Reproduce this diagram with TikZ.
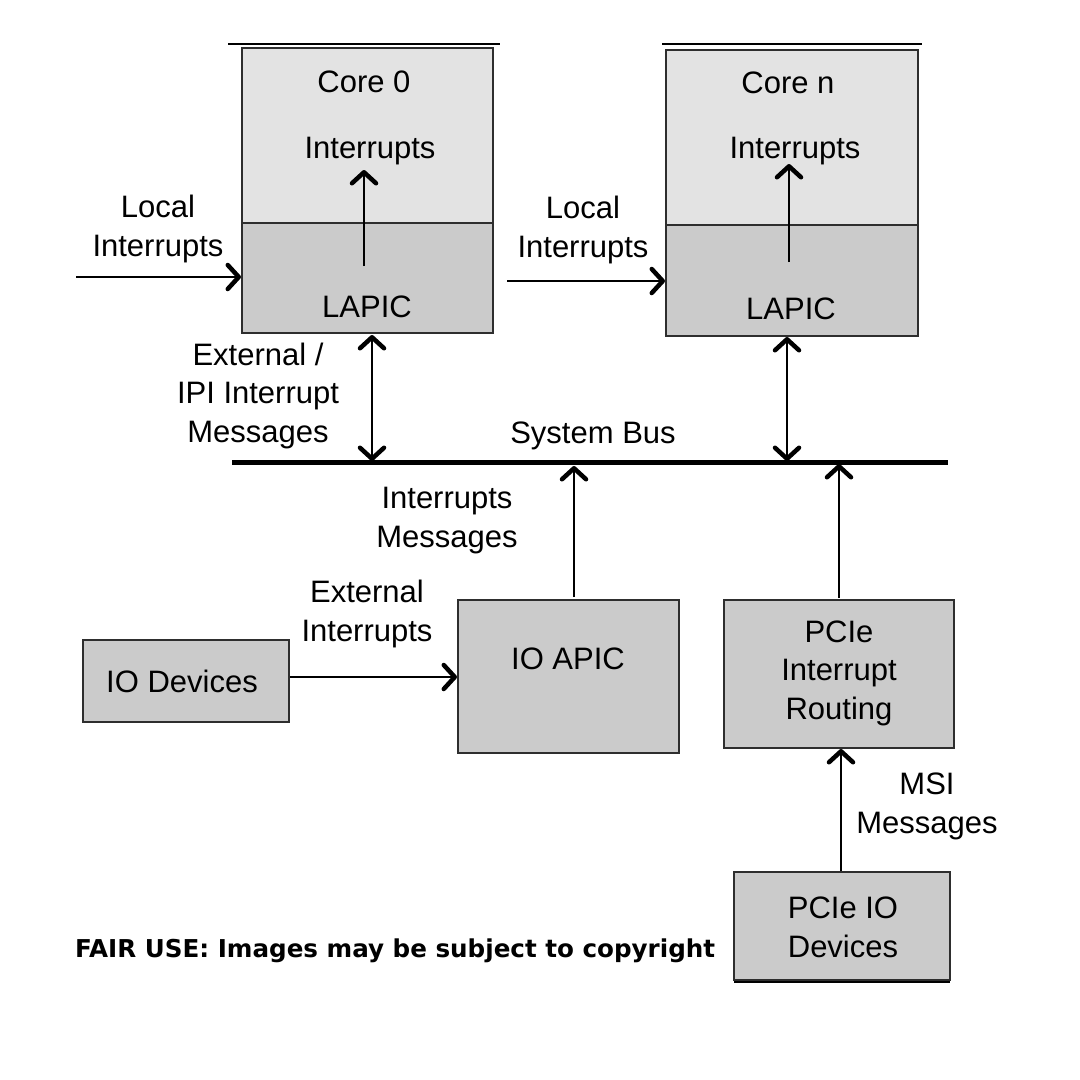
\documentclass[tikz,border=0pt]{standalone}
\usepackage{fontspec}
\setmainfont{Liberation Sans}
\newfontfamily\fairfont{DejaVu Sans}
\usetikzlibrary{arrows.meta}
\definecolor{lightbox}{HTML}{E3E3E3}
\definecolor{darkbox}{HTML}{CBCBCB}
\definecolor{edgegray}{HTML}{2E2E2E}
\tikzset{
  blk/.style={draw=edgegray, line width=2pt, inner sep=0pt},
  lbl/.style={font=\fontsize{31}{38.5}\selectfont, align=center, inner sep=0pt, anchor=base},
  barb/.tip={Straight Barb[length=11pt, width=24pt, line width=4.5pt 0, round]},
  conn/.style={line width=1.8pt, -barb},
  dconn/.style={line width=1.8pt, barb-barb},
}
\begin{document}
\begin{tikzpicture}[x=1pt,y=-1pt]
\useasboundingbox[fill=white] (0,0) rectangle (1080,1080);

% Core 0
\node[blk, fill=lightbox, minimum width=251pt, minimum height=175pt] (c0top) at (367.5,135.5) {};
\node[blk, fill=darkbox, minimum width=251pt, minimum height=110pt] (c0lap) at (367.5,278) {};
\coordinate (c0barL) at (228,44);
\coordinate (c0barR) at (500,44);
\draw[line width=2pt] (c0barL) -- (c0barR);
\node[lbl] (c0name) at (364,92) {Core 0};
\node[lbl] (c0int) at (370,158) {Interrupts};
\node[lbl] (c0lapt) at (367,317) {LAPIC};
\coordinate (c0in) at (364,266);
\coordinate (c0out) at (364,170);
\draw[conn] (c0in) -- (c0out);

% Core n
\node[blk, fill=lightbox, minimum width=252pt, minimum height=175pt] (cntop) at (792,137.5) {};
\node[blk, fill=darkbox, minimum width=252pt, minimum height=111pt] (cnlap) at (792,280.5) {};
\coordinate (cnbarL) at (662,44);
\coordinate (cnbarR) at (922,44);
\draw[line width=2pt] (cnbarL) -- (cnbarR);
\node[lbl] (cnname) at (788,93) {Core n};
\node[lbl] (cnint) at (795,158) {Interrupts};
\node[lbl] (cnlapt) at (791,319) {LAPIC};
\coordinate (cnin) at (789,262);
\coordinate (cnout) at (789,164);
\draw[conn] (cnin) -- (cnout);

% Local interrupts
\node[lbl] (loc0) at (158,256) {Local\\Interrupts};
\coordinate (loc0src) at (76,277);
\draw[conn] (loc0src) -- (c0lap.west |- loc0src);
\node[lbl] (locn) at (583,257) {Local\\Interrupts};
\coordinate (locnsrc) at (507,281);
\draw[conn] (locnsrc) -- (cnlap.west |- locnsrc);

% System bus
\coordinate (busL) at (232,462.5);
\coordinate (busR) at (948,462.5);
\draw[line width=5pt] (busL) -- (busR);
\node[lbl] (buslbl) at (593,443) {System Bus};

% LAPIC <-> bus
\draw[dconn] (372,335) -- (372,461);
\draw[dconn] (787,337) -- (787,461);
\node[lbl] (extipi) at (258,442) {External /\\IPI Interrupt\\Messages};

% IO APIC
\node[blk, fill=darkbox, minimum width=221pt, minimum height=153pt] (ioapic) at (568.5,676.5) {};
\node[lbl] (ioapict) at (568,669) {IO APIC};
\coordinate (ioapicup) at (574,597);
\coordinate (ioapicbus) at (574,466);
\draw[conn] (ioapicup) -- (ioapicbus);
\node[lbl] (intmsg) at (447,547) {Interrupts\\Messages};

% PCIe Interrupt Routing
\node[blk, fill=darkbox, minimum width=230pt, minimum height=148pt] (pcier) at (839,674) {};
\node[lbl] (pciert) at (839,719) {PCIe\\Interrupt\\Routing};
\coordinate (pcieup) at (839,598);
\coordinate (pciebus) at (839,464);
\draw[conn] (pcieup) -- (pciebus);

% IO Devices
\node[blk, fill=darkbox, minimum width=206pt, minimum height=82pt] (iodev) at (186,681) {};
\node[lbl] (iodevt) at (182,692) {IO Devices};
\draw[conn] (iodev.east |- 0,677) -- (ioapic.west |- 0,677);
\node[lbl] (extint) at (367,641) {External\\Interrupts};

% PCIe IO Devices
\node[blk, fill=darkbox, minimum width=216pt, minimum height=108pt] (pciedev) at (842,926) {};
\node[lbl] (pciedevt) at (843,957) {PCIe IO\\Devices};
\coordinate (pciedevbarL) at (734,982);
\coordinate (pciedevbarR) at (950,982);
\draw[line width=2pt] (pciedevbarL) -- (pciedevbarR);
\draw[conn] (pciedev.north -| 841,0) -- (pcier.south -| 841,0);
\node[lbl] (msi) at (927,833) {MSI\\Messages};

% Fair use notice
\node[font=\fairfont\bfseries\fontsize{24.6}{28}\selectfont, inner sep=0pt, anchor=base west] (fair) at (75,957) {FAIR USE: Images may be subject to copyright};
\end{tikzpicture}
\end{document}
